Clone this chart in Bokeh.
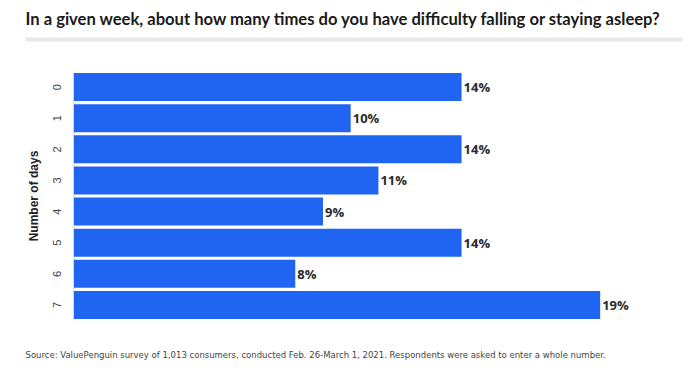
from bokeh.plotting import figure
from bokeh.layouts import column
from bokeh.models import FactorRange, Range1d, ColumnDataSource
from bokeh.embed import file_html
from bokeh.resources import INLINE
from bokeh.core.properties import value

days = ["0", "1", "2", "3", "4", "5", "6", "7"]
pct = [14, 10, 14, 11, 9, 14, 8, 19]
pct_labels = [f"{v}%" for v in pct]
title_text = "In a given week, about how many times do you have difficulty falling or staying asleep?"
source_text = ("Source: ValuePenguin survey of 1,013 consumers, conducted Feb. 26-March 1, 2021. "
               "Respondents were asked to enter a whole number.")
y_label = "Number of days"

W = 684
TOP_H, MAIN_H, BOT_H = 50, 284, 27


def blank(h):
    f = figure(width=W, height=h, x_range=Range1d(0, W), y_range=Range1d(h, 0),
               output_backend="svg", toolbar_location=None,
               min_border=0, min_border_left=0, min_border_right=0,
               min_border_top=0, min_border_bottom=0)
    f.frame_align = False
    f.axis.visible = False
    f.grid.visible = False
    f.outline_line_color = None
    f.background_fill_color = "white"
    f.border_fill_color = "white"
    return f


# --- title band ---
top = blank(TOP_H)
top.text(x=[25], y=[18.5], text=[title_text], text_baseline="alphabetic",
         text_align="left", text_font=value("Lato"),
         text_font_style="bold", text_font_size="16.6px", text_color="#1a1a1a")
top.quad(left=[25], right=[682], top=[37], bottom=[41],
         fill_color="#e8e8e8", line_color=None)

# --- main chart ---
p = figure(width=W, height=MAIN_H,
           y_range=FactorRange(factors=days[::-1]),
           x_range=Range1d(0, 21.32),
           output_backend="svg", toolbar_location=None,
           min_border_left=73, min_border_right=20,
           min_border_top=21, min_border_bottom=14)
p.frame_align = False
p.outline_line_color = None
p.xgrid.visible = False
p.ygrid.visible = False
p.xaxis.visible = False
p.background_fill_color = "white"
p.border_fill_color = "white"

src = ColumnDataSource(dict(day=days, pct=pct, lab=pct_labels))
p.hbar(y="day", right="pct", left=0, height=0.9, source=src,
       fill_color="#1F65F2", line_color=None)
p.text(x="pct", y="day", text="lab", source=src, x_offset=2,
       text_baseline="middle", text_align="left",
       text_font=value("Open Sans"), text_font_style="bold",
       text_font_size="13px", text_color="#2a2a2a")

ax = p.yaxis[0]
ax.axis_label = y_label
ax.axis_label_text_font = "Liberation Sans"
ax.axis_label_text_font_style = "bold"
ax.axis_label_text_font_size = "12px"
ax.axis_label_text_color = "#222222"
ax.axis_label_standoff = 9
ax.major_label_orientation = "vertical"
ax.major_label_text_font = "Liberation Sans"
ax.major_label_text_font_size = "11px"
ax.major_label_text_color = "#444444"
ax.major_label_standoff = 7
ax.major_tick_line_color = None
ax.minor_tick_line_color = None
ax.axis_line_color = "#d8d8d8"

# --- source band ---
bot = blank(BOT_H)
bot.text(x=[25], y=[20.5], text=[source_text], text_baseline="alphabetic",
         text_align="left", text_font=value("DejaVu Sans"),
         text_font_size="8.5px", text_color="#444444")

layout = column(top, p, bot, spacing=0)
open("out.html", "w").write(file_html(layout, INLINE))
